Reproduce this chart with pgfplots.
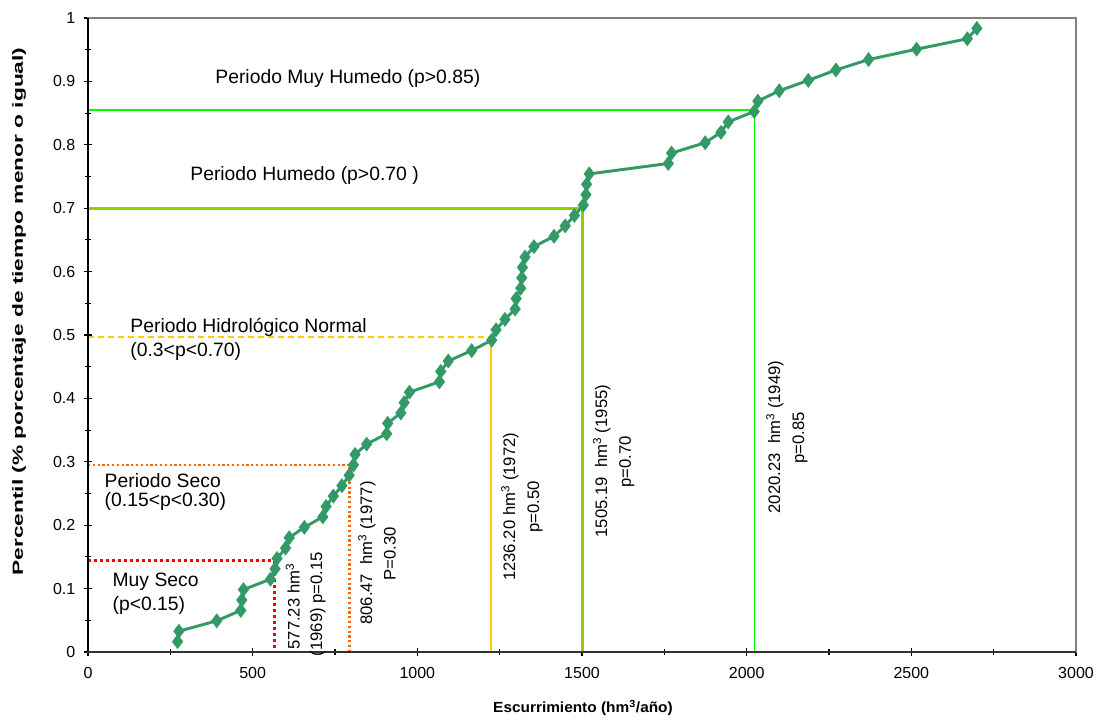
\documentclass[border=0pt]{standalone}
\usepackage{fontspec}
\setmainfont{Liberation Sans}
\usepackage{graphicx}
\usepackage{pgfplots}
\pgfplotsset{compat=1.18}
\definecolor{curve}{RGB}{51,153,102}
\definecolor{lorange}{RGB}{255,102,0}
\definecolor{lyellow}{RGB}{255,204,0}
\definecolor{lyg}{RGB}{153,204,0}
\definecolor{lgreen}{RGB}{0,255,0}
\pgfplotstableread{
x p
272 0.0164
276 0.0328
391 0.0492
464 0.0656
467 0.0820
472 0.0984
554 0.1148
568 0.1311
574 0.1475
600 0.1639
611 0.1803
657 0.1967
713 0.2131
723 0.2295
745 0.2459
771 0.2623
793 0.2787
806 0.2951
811 0.3115
846 0.3279
907 0.3443
910 0.3607
950 0.3770
960 0.3934
976 0.4098
1067 0.4262
1071 0.4426
1094 0.4590
1165 0.4754
1226 0.4918
1239 0.5082
1266 0.5246
1297 0.5410
1300 0.5574
1314 0.5738
1317 0.5902
1319 0.6066
1327 0.6230
1354 0.6393
1415 0.6557
1449 0.6721
1477 0.6885
1504 0.7049
1512 0.7213
1514 0.7377
1522 0.7541
1762 0.7705
1772 0.7869
1874 0.8033
1922 0.8197
1944 0.8361
2023 0.8525
2034 0.8689
2099 0.8852
2187 0.9016
2271 0.9180
2370 0.9344
2516 0.9508
2670 0.9672
2699 0.9836
}\curvedata
\begin{document}
\begin{tikzpicture}
\useasboundingbox (0,0) rectangle (826.5pt,540.75pt);
\begin{axis}[
  at={(66pt,51.75pt)}, anchor=south west,
  scale only axis, width=741pt, height=475.5pt,
  xmin=0, xmax=3000, ymin=0, ymax=1,
  clip=false,
  xtick={0,500,1000,1500,2000,2500,3000},
  minor x tick num=1,
  ytick={0,0.1,0.2,0.3,0.4,0.5,0.6,0.7,0.8,0.9,1},
  yticklabels={0,0.1,0.2,0.3,0.4,0.5,0.6,0.7,0.8,0.9,1},
  minor y tick num=1,
  tick pos=left,
  tick align=center,
  major tick length=6pt,
  minor tick length=4pt,
  tick style={black, line width=0.8pt},
  axis line style={draw=gray, line width=1.6pt},
  /pgf/number format/assume math mode=true,
  /pgf/number format/1000 sep={},
  ticklabel style={font=\fontsize{12}{14}\selectfont},
  xticklabel style={yshift=-5pt},
  yticklabel style={xshift=-3pt},
  xlabel={\scalebox{1.05}[1]{Escurrimiento (hm\textsuperscript{3}/año)}},
  xlabel style={at={(axis description cs:0.501,-0.0883)}, anchor=center, font=\bfseries\fontsize{11}{13}\selectfont},
  ylabel={\scalebox{1.55}[1]{Percentil (\% porcentaje de tiempo menor o igual)}},
  ylabel style={at={(axis description cs:-0.0698,0.537)}, anchor=center, font=\bfseries\fontsize{11}{13}\selectfont},
]
% reference lines
\addplot[lgreen, line width=1pt] coordinates {(0,0.855) (2024,0.855) (2024,0)};
\addplot[lyg, line width=2pt] coordinates {(0,0.700) (1502,0.700) (1502,0)};
\addplot[lyellow, line width=1.1pt, dash pattern=on 4.5pt off 3pt] coordinates {(0,0.497) (1223,0.497)};
\addplot[lyellow, line width=1.1pt] coordinates {(1223,0.497) (1223,0)};
\addplot[lorange, line width=1.8pt, dash pattern=on 1.6pt off 2pt] coordinates {(0,0.295) (794,0.295) (794,0)};
\addplot[red, line width=2.2pt, dash pattern=on 2.2pt off 2.3pt] coordinates {(0,0.144) (565,0.144) (565,0)};
% curve
\addplot[curve, line width=2.2pt, mark=diamond*, mark size=3.8pt, mark options={solid, fill=curve}] table[x=x, y=p] {\curvedata};
% black axis lines
\draw[black, line width=1pt] (rel axis cs:0,0) -- (rel axis cs:0,1);
\draw[black!80, line width=1.4pt] (rel axis cs:0,0) -- (rel axis cs:1,0);
% annotations
\begin{scope}[every node/.style={font=\fontsize{14.5}{17}\selectfont, inner sep=0pt, anchor=west}]
\node at (axis cs:386,0.905) {Periodo Muy Humedo (p>0.85)};
\node at (axis cs:310,0.751) {Periodo Humedo (p>0.70 )};
\node at (axis cs:128,0.512) {Periodo Hidrológico Normal};
\node at (axis cs:128,0.474) {(0.3<p<0.70)};
\node at (axis cs:50,0.271) {Periodo Seco};
\node at (axis cs:50,0.237) {(0.15<p<0.30)};
\node at (axis cs:74,0.111) {Muy Seco};
\node at (axis cs:74,0.074) {(p<0.15)};
\end{scope}
\begin{scope}[every node/.style={font=\fontsize{12.5}{15}\selectfont, inner sep=0pt, anchor=center, rotate=90}]
\node at (axis cs:622,0.0718) {577.23 hm\textsuperscript{3}};
\node at (axis cs:698,0.0757) {(1969) p=0.15};
\node at (axis cs:847,0.156) {806.47\ \ hm\textsuperscript{3} (1977)};
\node at (axis cs:917,0.155) {P=0.30};
\node at (axis cs:1281,0.229) {1236.20 hm\textsuperscript{3} (1972)};
\node at (axis cs:1357,0.229) {p=0.50};
\node at (axis cs:1560,0.301) {1505.19\ \ hm\textsuperscript{3} (1955)};
\node at (axis cs:1636,0.300) {p=0.70};
\node at (axis cs:2086,0.339) {2020.23\ \ hm\textsuperscript{3} (1949)};
\node at (axis cs:2162,0.3375) {p=0.85};
\end{scope}
\end{axis}
\end{tikzpicture}
\end{document}
